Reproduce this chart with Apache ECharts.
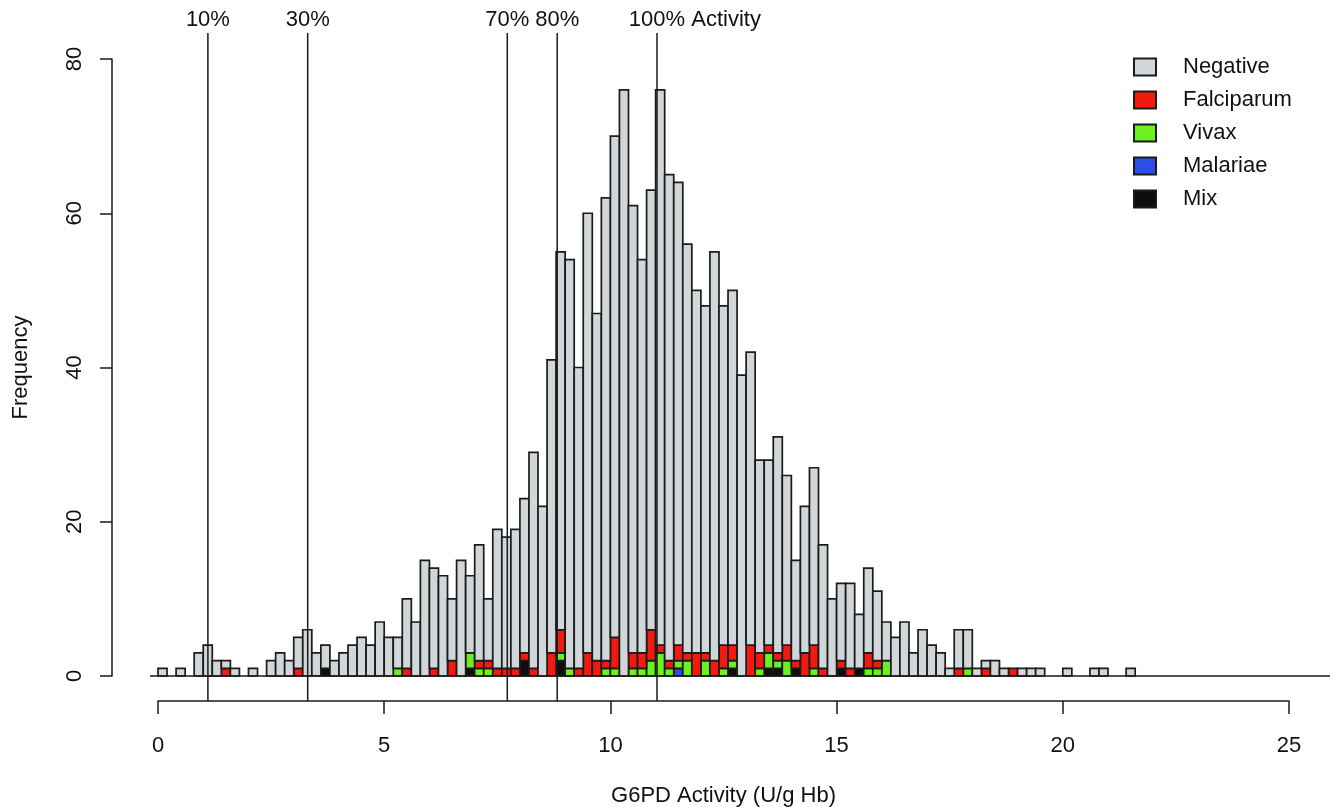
<!DOCTYPE html>
<html>
<head>
<meta charset="utf-8">
<script src="https://cdn.jsdelivr.net/npm/echarts@6/dist/echarts.min.js"></script>
<style>
html, body { margin: 0; padding: 0; background: #fff; }
#main { width: 1340px; height: 807px; }
</style>
</head>
<body>
<div id="main"></div>
<script>
// histogram bins: 0.2 U/g Hb wide, starting at 0
var binStart = 0;
var binWidth = 0.2;

// total count per bin (108 bins, 0 .. 21.6)
var totalCounts = [
  1, 0, 1, 0, 3, 4, 2, 2, 1, 0,
  1, 0, 2, 3, 2, 5, 6, 3, 4, 2,
  3, 4, 5, 4, 7, 5, 5, 10, 7, 15,
  14, 13, 10, 15, 13, 17, 10, 19, 18, 19,
  23, 29, 22, 41, 55, 54, 40, 60, 47, 62,
  70, 76, 61, 54, 63, 76, 65, 64, 56, 50,
  48, 55, 48, 50, 39, 42, 28, 28, 31, 26,
  15, 22, 27, 17, 10, 12, 12, 8, 14, 11,
  7, 5, 7, 3, 6, 4, 3, 1, 6, 6,
  1, 2, 2, 1, 1, 1, 1, 1, 0, 0,
  1, 0, 0, 1, 1, 0, 0, 1
];
var falciparum = [
  0, 0, 0, 0, 0, 0, 0, 1, 0, 0,
  0, 0, 0, 0, 0, 1, 0, 0, 0, 0,
  0, 0, 0, 0, 0, 0, 0, 1, 0, 0,
  1, 0, 2, 0, 0, 1, 1, 1, 1, 1,
  1, 1, 0, 3, 3, 0, 1, 3, 2, 1,
  4, 0, 2, 2, 4, 1, 1, 2, 1, 3,
  1, 2, 3, 2, 0, 4, 2, 1, 1, 2,
  1, 3, 3, 1, 0, 1, 1, 0, 2, 1,
  0, 0, 0, 0, 0, 0, 0, 0, 1, 0,
  0, 1, 0, 0, 1, 0, 0, 0, 0, 0,
  0, 0, 0, 0, 0, 0, 0, 0
];
var vivax = [
  0, 0, 0, 0, 0, 0, 0, 0, 0, 0,
  0, 0, 0, 0, 0, 0, 0, 0, 0, 0,
  0, 0, 0, 0, 0, 0, 1, 0, 0, 0,
  0, 0, 0, 0, 2, 1, 1, 0, 0, 0,
  0, 0, 0, 0, 1, 1, 0, 0, 0, 1,
  1, 0, 1, 1, 2, 3, 1, 1, 2, 0,
  2, 0, 1, 1, 0, 0, 1, 2, 1, 2,
  0, 0, 1, 0, 0, 0, 0, 0, 1, 1,
  2, 0, 0, 0, 0, 0, 0, 0, 0, 1,
  0, 0, 0, 0, 0, 0, 0, 0, 0, 0,
  0, 0, 0, 0, 0, 0, 0, 0
];
var malariae = [
  0, 0, 0, 0, 0, 0, 0, 0, 0, 0,
  0, 0, 0, 0, 0, 0, 0, 0, 0, 0,
  0, 0, 0, 0, 0, 0, 0, 0, 0, 0,
  0, 0, 0, 0, 0, 0, 0, 0, 0, 0,
  0, 0, 0, 0, 0, 0, 0, 0, 0, 0,
  0, 0, 0, 0, 0, 0, 0, 1, 0, 0,
  0, 0, 0, 0, 0, 0, 0, 0, 0, 0,
  0, 0, 0, 0, 0, 0, 0, 0, 0, 0,
  0, 0, 0, 0, 0, 0, 0, 0, 0, 0,
  0, 0, 0, 0, 0, 0, 0, 0, 0, 0,
  0, 0, 0, 0, 0, 0, 0, 0
];
var mix = [
  0, 0, 0, 0, 0, 0, 0, 0, 0, 0,
  0, 0, 0, 0, 0, 0, 0, 0, 1, 0,
  0, 0, 0, 0, 0, 0, 0, 0, 0, 0,
  0, 0, 0, 0, 1, 0, 0, 0, 0, 0,
  2, 0, 0, 0, 2, 0, 0, 0, 0, 0,
  0, 0, 0, 0, 0, 0, 0, 0, 0, 0,
  0, 0, 0, 1, 0, 0, 0, 1, 1, 0,
  1, 0, 0, 0, 0, 1, 0, 1, 0, 0,
  0, 0, 0, 0, 0, 0, 0, 0, 0, 0,
  0, 0, 0, 0, 0, 0, 0, 0, 0, 0,
  0, 0, 0, 0, 0, 0, 0, 0
];
var negative = totalCounts.map(function (t, i) {
  return t - falciparum[i] - vivax[i] - malariae[i] - mix[i];
});

// reference lines: % of normal activity
var fullActivity = 11.03;
var refPercents = [10, 30, 70, 80, 100];
var refLabels = ['10%', '30%', '70%', '80%', '100% Activity'];

var xTicks = { min: 0, max: 25, interval: 5 };
var yTicks = { min: 0, max: 80, interval: 20 };

var FONT = '"Liberation Sans", Arial, Helvetica, sans-serif';
var FS = 22;
var INK = '#111';
var EDGE = '#1b1b1b';

// stacking order from bottom to top
var classes = [
  { name: 'Mix', counts: mix, color: '#0e0e0e' },
  { name: 'Malariae', counts: malariae, color: '#2b4de8' },
  { name: 'Vivax', counts: vivax, color: '#6df01f' },
  { name: 'Falciparum', counts: falciparum, color: '#f2190f' },
  { name: 'Negative', counts: negative, color: '#d1d7d9' }
];

function rectItem(params, api) {
  var y0 = api.value(2), y1 = api.value(3);
  if (y1 <= y0) return null;
  var a = api.coord([api.value(0), y1]);
  var b = api.coord([api.value(1), y0]);
  return {
    type: 'rect',
    shape: { x: a[0], y: a[1], width: b[0] - a[0], height: b[1] - a[1] },
    style: { fill: api.visual('color'), stroke: EDGE, lineWidth: 1.7 }
  };
}

var ctx = document.createElement('canvas').getContext('2d');
ctx.font = FS + 'px ' + FONT;

function refItem(params, api) {
  var cs = params.coordSys;
  var x = api.coord([api.value(0), 0])[0];
  var label = refLabels[params.dataIndex];
  var head = label.split(' ')[0];
  var half = ctx.measureText(head).width / 2;
  return {
    type: 'group',
    children: [
      {
        type: 'line',
        shape: { x1: x, y1: cs.y - 26, x2: x, y2: cs.y + cs.height + 25 },
        style: { stroke: '#1a1a1a', lineWidth: 1.5 }
      },
      {
        type: 'text',
        style: {
          x: x - half, y: cs.y - 39, text: label,
          align: 'left', verticalAlign: 'middle',
          font: FS + 'px ' + FONT, fill: INK
        }
      }
    ]
  };
}

function baselineItem(params, api) {
  var cs = params.coordSys;
  var y = api.coord([0, api.value(0)])[1];
  return {
    type: 'line',
    shape: { x1: cs.x - 8, y1: y, x2: cs.x + cs.width + 41, y2: y },
    style: { stroke: '#1a1a1a', lineWidth: 1.6 }
  };
}

var series = [];
var base = totalCounts.map(function () { return 0; });
classes.forEach(function (c) {
  var data = c.counts.map(function (v, i) {
    var item = [binStart + i * binWidth, binStart + (i + 1) * binWidth, base[i], base[i] + v];
    base[i] += v;
    return item;
  });
  series.push({
    type: 'custom',
    name: c.name,
    renderItem: rectItem,
    data: data,
    clip: false,
    itemStyle: { color: c.color, borderColor: EDGE, borderWidth: 1.5 },
    z: 2
  });
});
series.push({
  type: 'custom', name: 'baseline', renderItem: baselineItem,
  data: [[0]], clip: false, z: 3, silent: true
});
series.push({
  type: 'custom', name: 'reference',
  renderItem: refItem,
  data: refPercents.map(function (p) { return [p / 100 * fullActivity]; }),
  clip: false, z: 4, silent: true
});

var myChart = echarts.init(document.getElementById('main'));
var option = {
  backgroundColor: '#fff',
  animation: false,
  grid: { left: 158, right: 51, top: 59, bottom: 131, containLabel: false, outerBoundsMode: 'none' },
  legend: {
    orient: 'vertical',
    left: 1133,
    top: 56,
    padding: 0,
    itemWidth: 22,
    itemHeight: 17,
    itemGap: 11,
    icon: 'rect',
    data: ['Negative', 'Falciparum', 'Vivax', 'Malariae', 'Mix'],
    textStyle: { fontFamily: FONT, fontSize: FS, color: INK, padding: [0, 0, 0, 22] }
  },
  xAxis: {
    type: 'value',
    min: xTicks.min,
    max: xTicks.max,
    interval: xTicks.interval,
    offset: 25,
    name: 'G6PD Activity (U/g Hb)',
    nameLocation: 'middle',
    nameGap: 84,
    nameTextStyle: { fontFamily: FONT, fontSize: FS, color: INK },
    axisLine: { onZero: false, lineStyle: { color: '#1a1a1a', width: 1.5 } },
    axisTick: { length: 13, lineStyle: { color: '#1a1a1a', width: 1.5 } },
    axisLabel: { margin: 34, fontFamily: FONT, fontSize: FS, color: INK },
    splitLine: { show: false }
  },
  yAxis: {
    type: 'value',
    min: yTicks.min,
    max: yTicks.max,
    interval: yTicks.interval,
    offset: 46,
    name: 'Frequency',
    nameLocation: 'middle',
    nameGap: 80,
    nameTextStyle: { fontFamily: FONT, fontSize: FS, color: INK },
    axisLine: { show: true, onZero: false, lineStyle: { color: '#1a1a1a', width: 1.5 } },
    axisTick: { show: true, length: 12, lineStyle: { color: '#1a1a1a', width: 1.5 } },
    axisLabel: { rotate: 90, margin: 26, fontFamily: FONT, fontSize: FS, color: INK },
    splitLine: { show: false }
  },
  series: series
};
myChart.setOption(option);
</script>
</body>
</html>
